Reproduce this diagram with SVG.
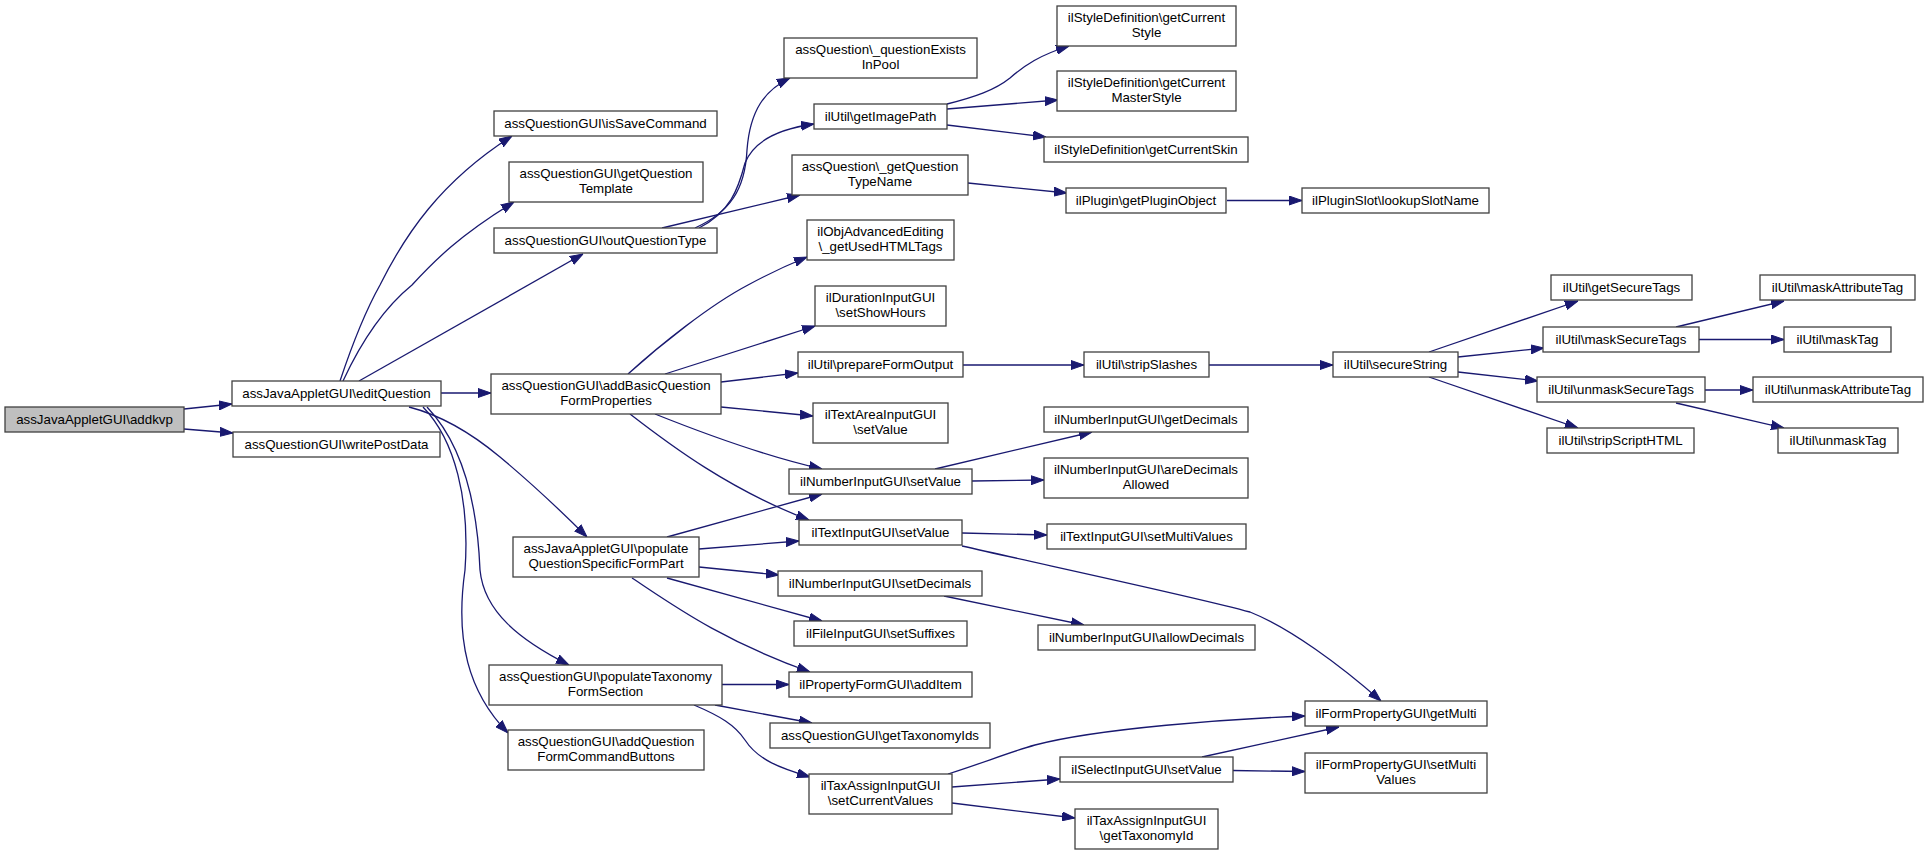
<svg xmlns="http://www.w3.org/2000/svg" width="1928" height="855" viewBox="0 0 1928 855">
<defs>
<style>
.n rect{fill:#fff;stroke:#404040;stroke-width:1.3}
.n.root rect{fill:#bfbfbf}
.n text{font-family:"Liberation Sans",Arial,sans-serif;font-size:13.3px;fill:#000;text-anchor:middle}
.e path{fill:none;stroke:#191970;stroke-width:1.3;marker-end:url(#a)}
</style>
<marker id="a" markerUnits="userSpaceOnUse" markerWidth="13" markerHeight="10" viewBox="0 0 13 10" refX="13" refY="5" orient="auto"><path d="M0,0.5 L13,5 L0,9.5z" fill="#191970" stroke="#191970" stroke-width="1"/></marker>
</defs>
<rect width="1928" height="855" fill="#fff"/>
<g id="edges" class="e">
<path d="M184,409 L232,404"/>
<path d="M184,429 L233,433"/>
<path d="M340,381 C352,345 366,310 380,285 C405,235 440,182 512,136"/>
<path d="M343,381 C362,340 385,307 412,285 C435,260 460,235 514,202"/>
<path d="M359,381 L583,254"/>
<path d="M441,393 L491,393"/>
<path d="M409,407 C440,415 470,432 500,457 C530,482 560,510 587,537"/>
<path d="M427,407 C468,450 478,520 480,570 C484,612 520,640 569,665"/>
<path d="M423,407 C455,440 470,500 465,570 C455,640 468,692 508,733"/>
<path d="M695,228 C730,212 745,190 747,150 C750,110 765,90 790,78"/>
<path d="M699,228 C730,212 738,190 745,163 C755,138 785,128 814,124"/>
<path d="M662,228 L800,195"/>
<path d="M947,104 C975,97 995,90 1010,78 C1025,65 1040,55 1069,46"/>
<path d="M947,109 L1058,100"/>
<path d="M947,125 L1046,137"/>
<path d="M968,183 L1067,193"/>
<path d="M1227,200.5 L1302,200.5"/>
<path d="M628,374 C660,345 710,305 748,285 C770,273 790,264 807,257"/>
<path d="M665,374 L815,326"/>
<path d="M721,382 L798,373"/>
<path d="M721,407 L813,416"/>
<path d="M655,414 C700,432 760,455 822,469"/>
<path d="M630,414 C670,445 730,490 809,520"/>
<path d="M963,365 L1084,365"/>
<path d="M1209,365 L1333,365"/>
<path d="M1429,352 L1578,301"/>
<path d="M1458,357 L1544,348"/>
<path d="M1458,372 L1538,381"/>
<path d="M1429,377 L1578,428"/>
<path d="M1676,327 L1784,301"/>
<path d="M1699,339.5 L1784,339.5"/>
<path d="M1705,390 L1753,390"/>
<path d="M1676,403 L1784,428"/>
<path d="M935,469 L1092,432"/>
<path d="M972,481 L1044,480"/>
<path d="M962,533 L1047,535"/>
<path d="M962,546 C1050,566 1200,598 1250,612 C1290,628 1340,665 1381,701"/>
<path d="M667,537 L822,494"/>
<path d="M699,549 L799,541"/>
<path d="M699,567 L779,575"/>
<path d="M667,578 L822,621"/>
<path d="M632,578 C670,603 720,640 810,672"/>
<path d="M944,596 L1084,625"/>
<path d="M722,684.5 L789,684.5"/>
<path d="M715,705 L812,723"/>
<path d="M694,705 C720,716 735,725 745,740 C758,760 780,768 810,777"/>
<path d="M948,774 C980,764 1010,752 1035,745 C1100,728 1230,719 1305,716"/>
<path d="M952,787 L1060,779"/>
<path d="M952,803 L1075,818"/>
<path d="M1202,757 L1339,727"/>
<path d="M1233,770.5 L1305,771.5"/>
</g>
<g id="n_addkvp" class="n root"><rect x="5" y="407" width="179" height="25"/><text x="94.5" y="424">assJavaAppletGUI\addkvp</text></g>
<g id="n_editQuestion" class="n"><rect x="232" y="381" width="209" height="25"/><text x="336.5" y="398">assJavaAppletGUI\editQuestion</text></g>
<g id="n_writePostData" class="n"><rect x="233" y="432" width="207" height="25"/><text x="336.5" y="449">assQuestionGUI\writePostData</text></g>
<g id="n_isSaveCommand" class="n"><rect x="494" y="111" width="223" height="25"/><text x="605.5" y="128">assQuestionGUI\isSaveCommand</text></g>
<g id="n_getQuestionTemplate" class="n"><rect x="509" y="162" width="194" height="40"/><text x="606" y="178">assQuestionGUI\getQuestion</text><text x="606" y="193">Template</text></g>
<g id="n_outQuestionType" class="n"><rect x="494" y="228" width="223" height="25"/><text x="605.5" y="245">assQuestionGUI\outQuestionType</text></g>
<g id="n_addBasic" class="n"><rect x="491" y="374" width="230" height="40"/><text x="606" y="390">assQuestionGUI\addBasicQuestion</text><text x="606" y="405">FormProperties</text></g>
<g id="n_populateQSFP" class="n"><rect x="513" y="537" width="186" height="40"/><text x="606" y="553">assJavaAppletGUI\populate</text><text x="606" y="568">QuestionSpecificFormPart</text></g>
<g id="n_populateTax" class="n"><rect x="489" y="665" width="233" height="40"/><text x="605.5" y="681">assQuestionGUI\populateTaxonomy</text><text x="605.5" y="696">FormSection</text></g>
<g id="n_addQFCB" class="n"><rect x="508" y="730" width="196" height="40"/><text x="606" y="746">assQuestionGUI\addQuestion</text><text x="606" y="761">FormCommandButtons</text></g>
<g id="n_questionExists" class="n"><rect x="784" y="38" width="193" height="40"/><text x="880.5" y="54">assQuestion\_questionExists</text><text x="880.5" y="69">InPool</text></g>
<g id="n_getImagePath" class="n"><rect x="814" y="104" width="133" height="25"/><text x="880.5" y="121">ilUtil\getImagePath</text></g>
<g id="n_getQuestionTypeName" class="n"><rect x="792" y="155" width="176" height="40"/><text x="880" y="171">assQuestion\_getQuestion</text><text x="880" y="186">TypeName</text></g>
<g id="n_objAdv" class="n"><rect x="807" y="220" width="147" height="40"/><text x="880.5" y="236">ilObjAdvancedEditing</text><text x="880.5" y="251">\_getUsedHTMLTags</text></g>
<g id="n_setShowHours" class="n"><rect x="815" y="286" width="131" height="40"/><text x="880.5" y="302">ilDurationInputGUI</text><text x="880.5" y="317">\setShowHours</text></g>
<g id="n_prepareFormOutput" class="n"><rect x="798" y="352" width="165" height="25"/><text x="880.5" y="369">ilUtil\prepareFormOutput</text></g>
<g id="n_textAreaSetValue" class="n"><rect x="813" y="403" width="135" height="40"/><text x="880.5" y="419">ilTextAreaInputGUI</text><text x="880.5" y="434">\setValue</text></g>
<g id="n_numberSetValue" class="n"><rect x="789" y="469" width="183" height="25"/><text x="880.5" y="486">ilNumberInputGUI\setValue</text></g>
<g id="n_textSetValue" class="n"><rect x="799" y="520" width="163" height="25"/><text x="880.5" y="537">ilTextInputGUI\setValue</text></g>
<g id="n_setDecimals" class="n"><rect x="778" y="571" width="204" height="25"/><text x="880" y="588">ilNumberInputGUI\setDecimals</text></g>
<g id="n_setSuffixes" class="n"><rect x="794" y="621" width="173" height="25"/><text x="880.5" y="638">ilFileInputGUI\setSuffixes</text></g>
<g id="n_addItem" class="n"><rect x="789" y="672" width="183" height="25"/><text x="880.5" y="689">ilPropertyFormGUI\addItem</text></g>
<g id="n_getTaxonomyIds" class="n"><rect x="770" y="723" width="220" height="25"/><text x="880" y="740">assQuestionGUI\getTaxonomyIds</text></g>
<g id="n_setCurrentValues" class="n"><rect x="809" y="774" width="143" height="40"/><text x="880.5" y="790">ilTaxAssignInputGUI</text><text x="880.5" y="805">\setCurrentValues</text></g>
<g id="n_getCurrentStyle" class="n"><rect x="1057" y="6" width="179" height="40"/><text x="1146.5" y="22">ilStyleDefinition\getCurrent</text><text x="1146.5" y="37">Style</text></g>
<g id="n_getCurrentMasterStyle" class="n"><rect x="1057" y="71" width="179" height="40"/><text x="1146.5" y="87">ilStyleDefinition\getCurrent</text><text x="1146.5" y="102">MasterStyle</text></g>
<g id="n_getCurrentSkin" class="n"><rect x="1044" y="137" width="204" height="25"/><text x="1146" y="154">ilStyleDefinition\getCurrentSkin</text></g>
<g id="n_getPluginObject" class="n"><rect x="1066" y="188" width="160" height="25"/><text x="1146" y="205">ilPlugin\getPluginObject</text></g>
<g id="n_lookupSlotName" class="n"><rect x="1302" y="188" width="187" height="25"/><text x="1395.5" y="205">ilPluginSlot\lookupSlotName</text></g>
<g id="n_stripSlashes" class="n"><rect x="1084" y="352" width="125" height="25"/><text x="1146.5" y="369">ilUtil\stripSlashes</text></g>
<g id="n_getDecimals" class="n"><rect x="1044" y="407" width="204" height="25"/><text x="1146" y="424">ilNumberInputGUI\getDecimals</text></g>
<g id="n_areDecimalsAllowed" class="n"><rect x="1044" y="458" width="204" height="40"/><text x="1146" y="474">ilNumberInputGUI\areDecimals</text><text x="1146" y="489">Allowed</text></g>
<g id="n_textSetMultiValues" class="n"><rect x="1047" y="524" width="199" height="25"/><text x="1146.5" y="541">ilTextInputGUI\setMultiValues</text></g>
<g id="n_allowDecimals" class="n"><rect x="1038" y="625" width="217" height="25"/><text x="1146.5" y="642">ilNumberInputGUI\allowDecimals</text></g>
<g id="n_selectSetValue" class="n"><rect x="1060" y="757" width="173" height="25"/><text x="1146.5" y="774">ilSelectInputGUI\setValue</text></g>
<g id="n_getTaxonomyId" class="n"><rect x="1075" y="809" width="143" height="40"/><text x="1146.5" y="825">ilTaxAssignInputGUI</text><text x="1146.5" y="840">\getTaxonomyId</text></g>
<g id="n_secureString" class="n"><rect x="1333" y="352" width="125" height="25"/><text x="1395.5" y="369">ilUtil\secureString</text></g>
<g id="n_getMulti" class="n"><rect x="1305" y="701" width="182" height="25"/><text x="1396" y="718">ilFormPropertyGUI\getMulti</text></g>
<g id="n_formSetMultiValues" class="n"><rect x="1305" y="753" width="182" height="40"/><text x="1396" y="769">ilFormPropertyGUI\setMulti</text><text x="1396" y="784">Values</text></g>
<g id="n_getSecureTags" class="n"><rect x="1551" y="275" width="141" height="25"/><text x="1621.5" y="292">ilUtil\getSecureTags</text></g>
<g id="n_maskSecureTags" class="n"><rect x="1543" y="327" width="156" height="25"/><text x="1621" y="344">ilUtil\maskSecureTags</text></g>
<g id="n_unmaskSecureTags" class="n"><rect x="1537" y="377" width="168" height="25"/><text x="1621" y="394">ilUtil\unmaskSecureTags</text></g>
<g id="n_stripScriptHTML" class="n"><rect x="1547" y="428" width="147" height="25"/><text x="1620.5" y="445">ilUtil\stripScriptHTML</text></g>
<g id="n_maskAttributeTag" class="n"><rect x="1760" y="275" width="155" height="25"/><text x="1837.5" y="292">ilUtil\maskAttributeTag</text></g>
<g id="n_maskTag" class="n"><rect x="1784" y="327" width="107" height="25"/><text x="1837.5" y="344">ilUtil\maskTag</text></g>
<g id="n_unmaskAttributeTag" class="n"><rect x="1753" y="377" width="170" height="25"/><text x="1838" y="394">ilUtil\unmaskAttributeTag</text></g>
<g id="n_unmaskTag" class="n"><rect x="1778" y="428" width="120" height="25"/><text x="1838" y="445">ilUtil\unmaskTag</text></g>
</svg>
